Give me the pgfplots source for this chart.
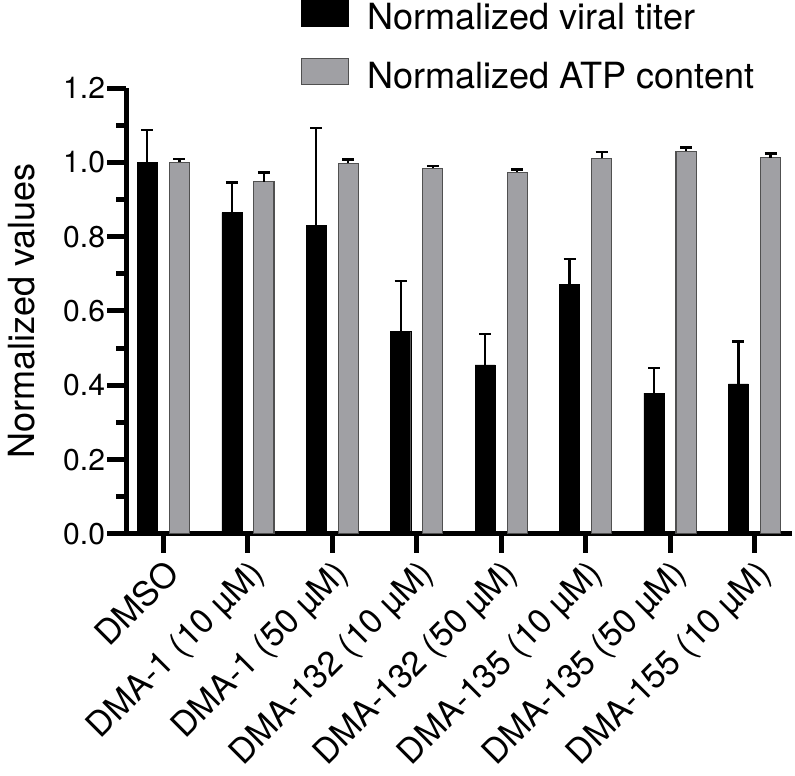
\documentclass[border=0pt]{standalone}
\usepackage{pgfplots}
\pgfplotsset{compat=1.18}
\usepackage{pgfplotstable}
\usepackage{fontspec}
\setmainfont{TeX Gyre Heros}
\definecolor{bargray}{RGB}{160,160,164}
\definecolor{edgegray}{RGB}{80,80,80}
\pgfplotstableread{
x v e
0 1.000 0.087
1 0.865 0.081
2 0.830 0.262
3 0.545 0.135
4 0.455 0.084
5 0.672 0.068
6 0.379 0.068
7 0.404 0.114
}\titer
\pgfplotstableread{
x v e
0 1.000 0.010
1 0.948 0.025
2 0.997 0.011
3 0.984 0.006
4 0.973 0.008
5 1.011 0.016
6 1.030 0.010
7 1.013 0.011
}\atp
\begin{document}
\begin{tikzpicture}
\begin{axis}[
  scale only axis, width=665pt, height=445pt,
  xmin=-0.44, xmax=7.45, ymin=0, ymax=1.2,
  axis x line=bottom, axis y line=left,
  every outer x axis line/.append style={-, line width=5pt, black},
  every outer y axis line/.append style={-, line width=5pt, black},
  axis line style={-, line width=5pt, black},
  tick align=outside, major tick length=19pt, minor tick length=10pt,
  every tick/.append style={line width=5pt, black},
  tick style={line width=5pt, black},
  xtick={0,1,2,3,4,5,6,7},
  xticklabels={DMSO, DMA-1 (10 µM), DMA-1 (50 µM), DMA-132 (10 µM), DMA-132 (50 µM), DMA-135 (10 µM), DMA-135 (50 µM), DMA-155 (10 µM)},
  xticklabel style={rotate=45, anchor=north east, font=\fontsize{34}{40}\selectfont, inner sep=3pt},
  ytick={0,0.2,0.4,0.6,0.8,1.0,1.2},
  minor ytick={0.1,0.3,0.5,0.7,0.9,1.1},
  yticklabel style={font=\fontsize{30}{36}\selectfont, inner sep=2pt, /pgf/number format/.cd, fixed, fixed zerofill, precision=1},
  /pgf/number format/assume math mode=true,
  ylabel={Normalized values},
  ylabel style={font=\fontsize{36}{43}\selectfont, inner xsep=0pt, inner ysep=8pt, at={(axis description cs:-0.138,0.5)}, anchor=base},
  legend style={at={(0.262,1.198)}, anchor=north west, draw=none, fill=none,
    font=\fontsize{36}{43}\selectfont, row sep=27pt, inner sep=0pt,
    nodes={inner sep=0pt},
    /tikz/every odd column/.append style={column sep=18pt}},
  legend cell align=left,
]
\addplot[ybar, bar width=20pt, bar shift=0pt, fill=black, draw=black,
  legend image code/.code={\draw[fill=black,draw=black] (0pt,-9pt) rectangle (47pt,17pt);},
  error bars/.cd, y dir=plus, y explicit,
  error bar style={line width=2.2pt, black},
  error mark options={line width=2.2pt, mark size=6pt, black, rotate=90}]
  table[x expr=\thisrow{x}-0.19, y=v, y error=e]{\titer};
\addlegendentry{Normalized viral titer}
\addplot[ybar, bar width=20pt, bar shift=0pt, fill=bargray, draw=edgegray, line width=1.2pt,
  legend image code/.code={\draw[fill=bargray,draw=edgegray,line width=1.2pt] (0pt,-9pt) rectangle (47pt,17pt);},
  error bars/.cd, y dir=plus, y explicit,
  error bar style={line width=2.2pt, black},
  error mark options={line width=2.2pt, mark size=6pt, black, rotate=90}]
  table[x expr=\thisrow{x}+0.19, y=v, y error=e]{\atp};
\addlegendentry{Normalized ATP content}
\end{axis}
\end{tikzpicture}
\end{document}
